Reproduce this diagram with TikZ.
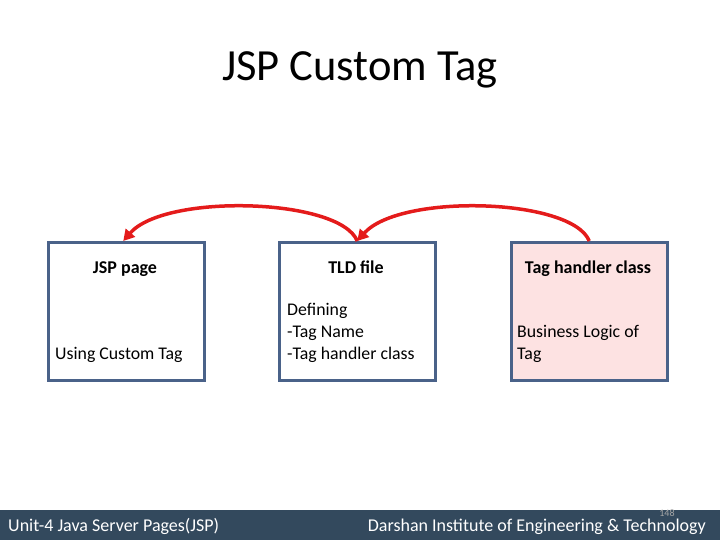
\documentclass[tikz,border=0pt]{standalone}
\usepackage{fontspec}
\setmainfont{Carlito}
\usetikzlibrary{arrows.meta}
\definecolor{boxborder}{HTML}{4A6289}
\definecolor{pinkfill}{HTML}{FDE2E2}
\definecolor{footbar}{HTML}{33495D}
\definecolor{arrowred}{HTML}{E41B1B}
\tikzset{
  tagbox/.style={draw=boxborder, line width=2.5pt, minimum width=156pt, minimum height=138pt, inner sep=0pt},
  boxhead/.style={font=\fontsize{18}{22}\selectfont\bfseries, anchor=base},
  boxtext/.style={font=\fontsize{17.8}{22}\selectfont, anchor=base west, align=left, inner sep=0pt},
  redarrow/.style={draw=arrowred, line width=3.5pt, -{Triangle[length=11pt,width=12pt]}},
  foottext/.style={font=\fontsize{18}{20}\selectfont, text=white, anchor=base west, inner sep=0pt}
}
\begin{document}
\begin{tikzpicture}[x=1pt,y=-1pt]
\useasboundingbox (0,0) rectangle (720,540);
\fill[white] (0,0) rectangle (720,540);
\node[font=\fontsize{44.5}{48}\selectfont, anchor=base] (title) at (360,81) {JSP Custom Tag};
\node[tagbox, anchor=north west] (jsp) at (47,241) {};
\node[tagbox, anchor=north west] (tld) at (278,241) {};
\node[tagbox, anchor=north west, fill=pinkfill] (tag) at (510,241) {};
\node[boxhead] (jsph) at (125,273) {JSP page};
\node[boxtext] (jspt) at (55,359) {Using Custom Tag};
\node[boxhead] (tldh) at (356,273) {TLD file};
\node[boxtext] (tldt) at (287,359) {Defining\\-Tag Name\\-Tag handler class};
\node[boxhead] (tagh) at (588,273) {Tag handler class};
\node[boxtext] (tagt) at (517,359) {Business Logic of\\Tag};
\draw[redarrow] (tld.north) .. controls (340,198) and (165,193) .. ([xshift=-3pt]jsp.north);
\draw[redarrow] (tag.north) .. controls (572,198) and (400,193) .. (tld.north);
\fill[footbar] (0,510) rectangle (720,540);
\node[foottext] (unit) at (8,531) {Unit-4 Java Server Pages(JSP)};
\node[foottext, anchor=base east] (inst) at (706,531) {Darshan Institute of Engineering \& Technology};
\node[font=\fontsize{10}{12}\selectfont, text=gray!70, anchor=base, inner sep=0pt] (pg) at (667,516) {148};
\end{tikzpicture}
\end{document}
